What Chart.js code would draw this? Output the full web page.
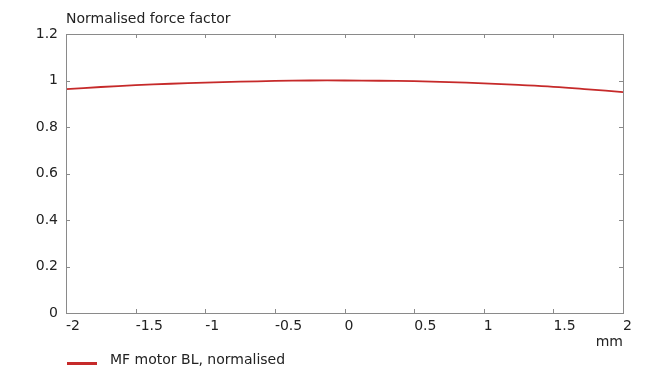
<!DOCTYPE html>
<html>
<head>
<meta charset="utf-8">
<script src="https://cdn.jsdelivr.net/npm/chart.js@4"></script>
<style>
    html, body { margin: 0; padding: 0; background: #ffffff; }
    #wrap { width: 658px; height: 370px; position: relative; }
</style>
</head>
<body>
<div id="wrap"><canvas id="chart-bl"></canvas></div>
<script>
// Force factor (BL) versus voice coil excursion, normalised to the rest position
const excursionMm = [-2, -1.75, -1.5, -1.25, -1, -0.75, -0.5, -0.25, 0, 0.25, 0.5, 0.75, 1, 1.25, 1.5, 1.75, 2];
const blNormalised = [0.963, 0.972, 0.980, 0.986, 0.991, 0.995, 0.998, 1.000, 1.000, 0.999, 0.997, 0.993, 0.988, 0.981, 0.973, 0.962, 0.950];

const yTitle = 'Normalised force factor';
const xTitle = 'mm';
const seriesLabel = 'MF motor BL, normalised';

const FONT = "'DejaVu Sans', Verdana, sans-serif";
const FONT_SIZE = 14;
const TEXT = '#222222';
const FRAME = '#8a8a8a';
const RED = '#c62a2a';

// plain number labels: 1 instead of 1.0, -2 instead of -2.0
const plainTick = v => String(Math.round(v * 100) / 100);

// frame, inward tick marks, y title above the plot and a line-style legend
const framePlugin = {
    id: 'frame',
    afterDraw(chart) {
        const { ctx, chartArea: a, scales: { x, y } } = chart;
        ctx.save();
        ctx.strokeStyle = FRAME;
        ctx.lineWidth = 1;
        ctx.strokeRect(Math.round(a.left) + 0.5, Math.round(a.top) + 0.5,
            Math.round(a.right - a.left), Math.round(a.bottom - a.top));

        const len = 4;
        ctx.beginPath();
        x.ticks.forEach(t => {
            const px = Math.round(x.getPixelForValue(t.value)) + 0.5;
            ctx.moveTo(px, a.bottom); ctx.lineTo(px, a.bottom - len);
            ctx.moveTo(px, a.top); ctx.lineTo(px, a.top + len);
        });
        y.ticks.forEach(t => {
            const py = Math.round(y.getPixelForValue(t.value)) + 0.5;
            ctx.moveTo(a.left, py); ctx.lineTo(a.left + len, py);
            ctx.moveTo(a.right, py); ctx.lineTo(a.right - len, py);
        });
        ctx.stroke();

        ctx.fillStyle = TEXT;
        ctx.font = `${FONT_SIZE}px ${FONT}`;
        ctx.textAlign = 'left';
        ctx.textBaseline = 'middle';
        ctx.fillText(yTitle, a.left, 19);

        const ds = chart.data.datasets[0];
        ctx.strokeStyle = ds.borderColor;
        ctx.lineWidth = 3;
        ctx.beginPath();
        ctx.moveTo(a.left + 1, 363.5);
        ctx.lineTo(a.left + 31, 363.5);
        ctx.stroke();
        ctx.fillText(ds.label, a.left + 44, 360);
        ctx.restore();
    }
};

new Chart(document.getElementById('chart-bl').getContext('2d'), {
    type: 'line',
    data: {
        labels: excursionMm,
        datasets: [{
            label: seriesLabel,
            data: excursionMm.map((v, i) => ({ x: v, y: blNormalised[i] })),
            borderColor: RED,
            borderWidth: 1.8,
            pointRadius: 0,
            tension: 0.4,
            fill: false
        }]
    },
    options: {
        responsive: true, maintainAspectRatio: false, animation: false,
        layout: { padding: { top: 34, left: 0, right: 35, bottom: 19 } },
        plugins: { legend: { display: false }, tooltip: { enabled: false } },
        scales: {
            x: {
                type: 'linear', min: -2, max: 2,
                ticks: { stepSize: 0.5, color: TEXT, font: { family: FONT, size: FONT_SIZE }, align: 'start', padding: 5, maxRotation: 0, callback: plainTick },
                grid: { display: false, drawTicks: false },
                border: { display: false },
                title: { display: true, text: xTitle, align: 'end', color: TEXT, font: { family: FONT, size: FONT_SIZE }, padding: 0 },
                afterFit: s => { s.height = 38; }
            },
            y: {
                min: 0, max: 1.2,
                ticks: { stepSize: 0.2, color: TEXT, font: { family: FONT, size: FONT_SIZE }, padding: 8, callback: plainTick },
                grid: { display: false, drawTicks: false },
                border: { display: false },
                afterFit: s => { s.width = 66; }
            }
        }
    },
    plugins: [framePlugin]
});
</script>
</body>
</html>
